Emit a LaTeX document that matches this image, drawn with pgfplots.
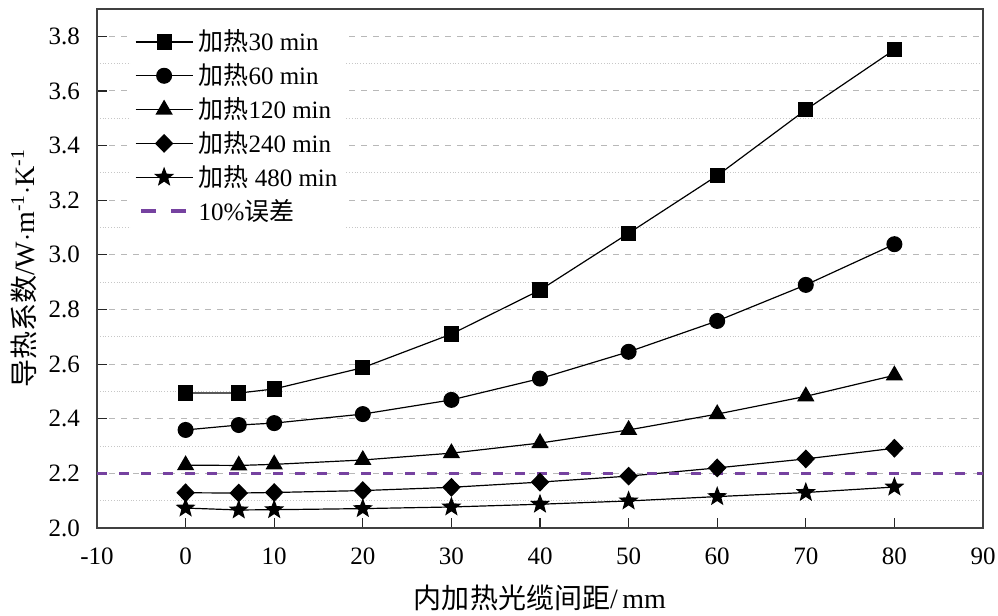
\documentclass[border=0pt]{standalone}
\usepackage{fontspec}
\setmainfont{Liberation Serif}
\newfontfamily\cjk{Noto Sans CJK SC}
\usepackage{pgfplots}
\pgfplotsset{compat=1.18}
\usetikzlibrary{plotmarks}
\definecolor{errpurple}{RGB}{118,66,160}
\makeatletter
\pgfdeclareplotmark{fstar}{%
  \pgfpathmoveto{\pgfpointpolar{90}{\pgfplotmarksize}}%
  \pgfpathlineto{\pgfpointpolar{126}{0.42*\pgfplotmarksize}}%
  \pgfpathlineto{\pgfpointpolar{162}{\pgfplotmarksize}}%
  \pgfpathlineto{\pgfpointpolar{198}{0.42*\pgfplotmarksize}}%
  \pgfpathlineto{\pgfpointpolar{234}{\pgfplotmarksize}}%
  \pgfpathlineto{\pgfpointpolar{270}{0.42*\pgfplotmarksize}}%
  \pgfpathlineto{\pgfpointpolar{306}{\pgfplotmarksize}}%
  \pgfpathlineto{\pgfpointpolar{342}{0.42*\pgfplotmarksize}}%
  \pgfpathlineto{\pgfpointpolar{18}{\pgfplotmarksize}}%
  \pgfpathlineto{\pgfpointpolar{54}{0.42*\pgfplotmarksize}}%
  \pgfpathclose
  \pgfusepathqfillstroke}
\makeatother
\begin{document}
\begin{tikzpicture}
\begin{axis}[
  name=ax,
  scale only axis,
  width=443pt, height=259.5pt,
  xmin=-10, xmax=90, ymin=2.0, ymax=3.9,
  xtick={-10,0,...,90},
  ytick={2.0,2.2,...,3.8},
  minor ytick={2.1,2.3,...,3.9},
  tick pos=left,
  tick align=inside,
  major tick length=5pt,
  minor tick length=0pt,
  ymajorgrids, yminorgrids,
  major grid style={dashed, draw=black!28, line width=0.5pt},
  minor grid style={densely dotted, draw=black!22, line width=0.4pt},
  axis line style={draw=black!75, line width=0.9pt},
  tick style={draw=black!85, line width=0.6pt},
  /pgf/number format/assume math mode=true,
  yticklabel style={/pgf/number format/fixed, /pgf/number format/fixed zerofill, /pgf/number format/precision=1, font=\fontsize{12.5}{14}\selectfont, xshift=-5pt},
  xticklabel style={font=\fontsize{12.5}{14}\selectfont, yshift=-6.5pt},
  xlabel={{\cjk 内加热光缆间距}/\,mm},
  ylabel={{\cjk 导热系数}/W$\cdot$m\textsuperscript{-1}$\cdot$K\textsuperscript{-1}},
  label style={font=\fontsize{14}{16}\selectfont},
  xlabel style={yshift=-3pt},
  ylabel style={yshift=-1pt},
  legend style={draw=none, fill=white, at={(0.038,0.972)}, anchor=north west,
    font=\fontsize{12.5}{14}\selectfont, row sep=0.9pt, inner xsep=2pt, inner ysep=1pt,
    legend cell align=left},
  legend image code/.code={\draw[mark repeat=2,mark phase=2,#1] plot coordinates {(0cm,0cm) (0.5cm,0cm) (1cm,0cm)};},
  every axis plot/.append style={black, line width=0.6pt, mark options={solid, fill=black}},
]
\addplot[mark=square*, mark size=3.5pt] coordinates {
 (0,2.494) (6,2.494) (10,2.509) (20,2.587) (30,2.710) (40,2.871) (50,3.079) (60,3.290) (70,3.531) (80,3.751)};
\addlegendentry{{\cjk 加热}30 min}
\addplot[mark=*, mark size=3.7pt] coordinates {
 (0,2.359) (6,2.377) (10,2.384) (20,2.417) (30,2.469) (40,2.547) (50,2.645) (60,2.758) (70,2.890) (80,3.039)};
\addlegendentry{{\cjk 加热}60 min}
\addplot[mark=triangle*, mark size=4.4pt] coordinates {
 (0,2.230) (6,2.229) (10,2.233) (20,2.249) (30,2.274) (40,2.311) (50,2.359) (60,2.417) (70,2.482) (80,2.559)};
\addlegendentry{{\cjk 加热}120 min}
\addplot[mark=diamond*, mark size=4.3pt, mark options={xscale=1.3}] coordinates {
 (0,2.129) (6,2.128) (10,2.130) (20,2.137) (30,2.149) (40,2.168) (50,2.190) (60,2.220) (70,2.253) (80,2.292)};
\addlegendentry{{\cjk 加热}240 min}
\addplot[mark=fstar, mark size=4.4pt] coordinates {
 (0,2.073) (6,2.066) (10,2.067) (20,2.071) (30,2.077) (40,2.087) (50,2.099) (60,2.115) (70,2.130) (80,2.150)};
\addlegendentry{{\cjk 加热} 480 min}
\addplot[errpurple, line width=1.6pt, dash pattern=on 5pt off 6pt, mark=none,
  legend image code/.code={\draw[errpurple, line width=2pt, dash pattern=on 7.5pt off 7.5pt] (0.1cm,0cm) -- (1cm,0cm);}] coordinates {(-10,2.2) (90,2.2)};
\addlegendentry{10\%{\cjk 误差}}
\end{axis}
\pgfresetboundingbox
\path[use as bounding box] ([xshift=-48.5pt, yshift=-43.5pt]ax.south west) rectangle ([xshift=7.5pt, yshift=4.5pt]ax.north east);
\end{tikzpicture}
\end{document}
